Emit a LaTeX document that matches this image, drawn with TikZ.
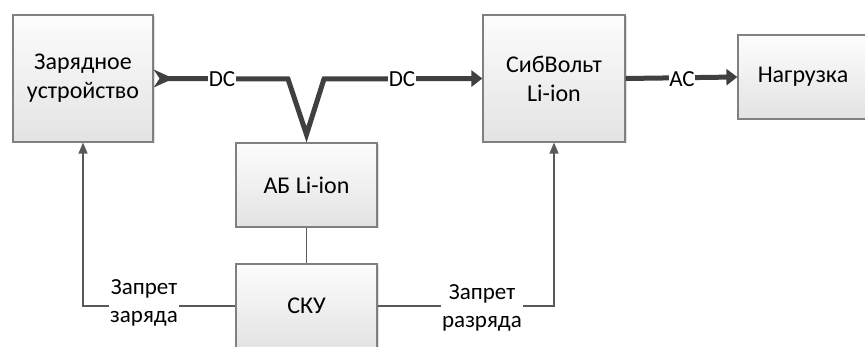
\documentclass[tikz,border=0pt]{standalone}
\usepackage{fontspec}
\setmainfont{Carlito}
\usetikzlibrary{arrows.meta,shadows}

\begin{document}
\begin{tikzpicture}[x=1pt,y=-1pt,
 box/.style={draw=black!50,line width=1.2pt,top color=black!1,bottom color=black!11,
  drop shadow={opacity=0.25,shadow xshift=1.5pt,shadow yshift=-1.5pt},
  align=center,inner sep=0pt,font=\fontsize{24}{29}\selectfont},
 power/.style={line width=5pt,draw=black!75},
 signal/.style={line width=1.3pt,draw=black!65},
 lbl/.style={fill=white,inner sep=1.5pt,align=center,font=\fontsize{23}{28}\selectfont}]
\useasboundingbox (0,0) rectangle (865,347);
\clip (0,0) rectangle (865,347);

% blocks
\node[box,minimum width=140pt,minimum height=127pt] (charger) at (83,78.5) {Зарядное\\устройство};
\node[box,minimum width=142pt,minimum height=127pt] (sib) at (554,78.5) {СибВольт\\Li-ion};
\node[box,minimum width=130pt,minimum height=84pt] (load) at (803,77) {Нагрузка};
\node[box,minimum width=141pt,minimum height=84pt] (ab) at (306.5,185) {АБ Li-ion};
\node[box,minimum width=141pt,minimum height=84pt] (sku) at (306.5,306) {СКУ};

% DC bus
\coordinate (vl) at (288,79);
\coordinate (vr) at (324,79);
\draw[power,line join=miter,-{Triangle[length=11pt,width=16pt]}]
 ([xshift=10pt]charger.east) -- (vl) -- ([yshift=8pt]ab.north) -- (vr) -- (sib.west);
% tail mark
\fill[black!75] (charger.east) ++(0,-9) -- ++(20,9) -- ++(-20,9) -- ++(6,-9) -- cycle;
\node[lbl,inner sep=0.5pt] (dc1) at (222,79) {DC};
\node[lbl,inner sep=0.5pt] (dc2) at (402,79) {DC};

% AC
\draw[power,-{Triangle[length=11pt,width=16pt]}] (sib.east) -- (load.west);
\node[lbl,inner sep=0.5pt] (ac) at (682,79) {AC};

% control
\draw[signal] (ab.south) -- (sku.north);
\draw[signal,-{Triangle[length=11pt,width=9pt]}] (sku.west) -| (charger.south);
\draw[signal,-{Triangle[length=11pt,width=9pt]}] (sku.east) -| (sib.south);
\node[lbl] (zcharge) at (144,303) {Запрет\\заряда};
\node[lbl] (zdischarge) at (482,308) {Запрет\\разряда};

\end{tikzpicture}
\end{document}
